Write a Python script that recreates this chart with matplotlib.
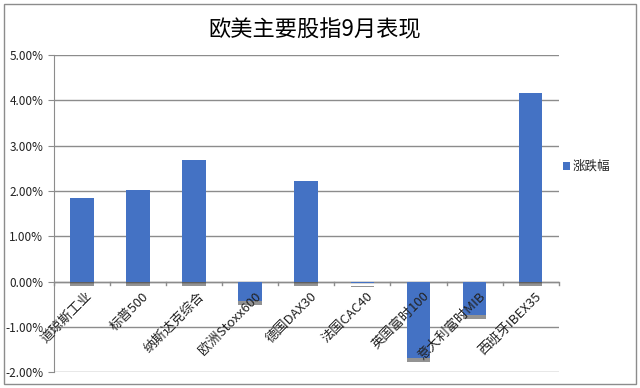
import numpy as np
import matplotlib.pyplot as plt
from matplotlib.patches import Rectangle
from matplotlib.ticker import FuncFormatter

plt.rcParams['font.family'] = ['Noto Sans CJK SC', 'DejaVu Sans']

categories = ["道琼斯工业", "标普500", "纳斯达克综合", "欧洲Stoxx600", "德国DAX30",
              "法国CAC40", "英国富时100", "意大利富时MIB", "西班牙IBEX35"]
values = [1.85, 2.02, 2.68, -0.42, 2.22, -0.04, -1.68, -0.74, 4.16]

bar_color = "#4472C4"
grid_color = "#8c8c8c"

fig = plt.figure(figsize=(6.4, 3.88), dpi=100)
ax = fig.add_axes([0.084, 0.041, 0.789, 0.817])

x = np.arange(len(categories))
# drop shadow below each bar, then bars
ax.bar(x, values, width=0.42, bottom=-0.09, color="#3a3a3a", alpha=0.55, zorder=2)
ax.bar(x, values, width=0.42, color=bar_color, zorder=3)

ax.set_xlim(-0.5, len(categories) - 0.5)
ax.set_ylim(-2, 5)
ax.set_yticks(np.arange(-2, 6, 1))
ax.yaxis.set_major_formatter(FuncFormatter(lambda v, p: f"{v:.2f}%"))
ax.grid(axis="y", color=grid_color, linewidth=1, zorder=0)
for s in ["top", "right", "bottom"]:
    ax.spines[s].set_visible(False)
ax.spines["left"].set_color(grid_color)
ax.tick_params(axis="y", length=4, color=grid_color, labelsize=8.5)
for t in ax.get_yticklabels():
    t.set_color("#222222")

# x axis at zero
ax.axhline(0, color=grid_color, linewidth=1, zorder=1)
ax.set_xticks([])
for b in np.arange(-0.5, len(categories), 1.0):
    ax.plot([b, b], [0, -0.08], color=grid_color, linewidth=1, zorder=1, clip_on=False)
for i, c in enumerate(categories):
    ax.text(i + 0.07, -0.18, c, rotation=45, ha="right", va="top", fontsize=9.5,
            color="#222222", rotation_mode="anchor", zorder=4)

fig.text(0.492, 0.923, "欧美主要股指9月表现", ha="center", va="center", fontsize=16)

# legend
fig.patches.append(Rectangle((0.879, 0.562), 0.011, 0.02, transform=fig.transFigure,
                             facecolor=bar_color, edgecolor="none"))
fig.text(0.895, 0.572, "涨跌幅", ha="left", va="center", fontsize=9, color="#222222")

# outer border
fig.patches.append(Rectangle((0.006, 0.01), 0.988, 0.98, transform=fig.transFigure,
                             facecolor="none", edgecolor="#8c8c8c", linewidth=1))

fig.savefig("out.png", dpi=100)
